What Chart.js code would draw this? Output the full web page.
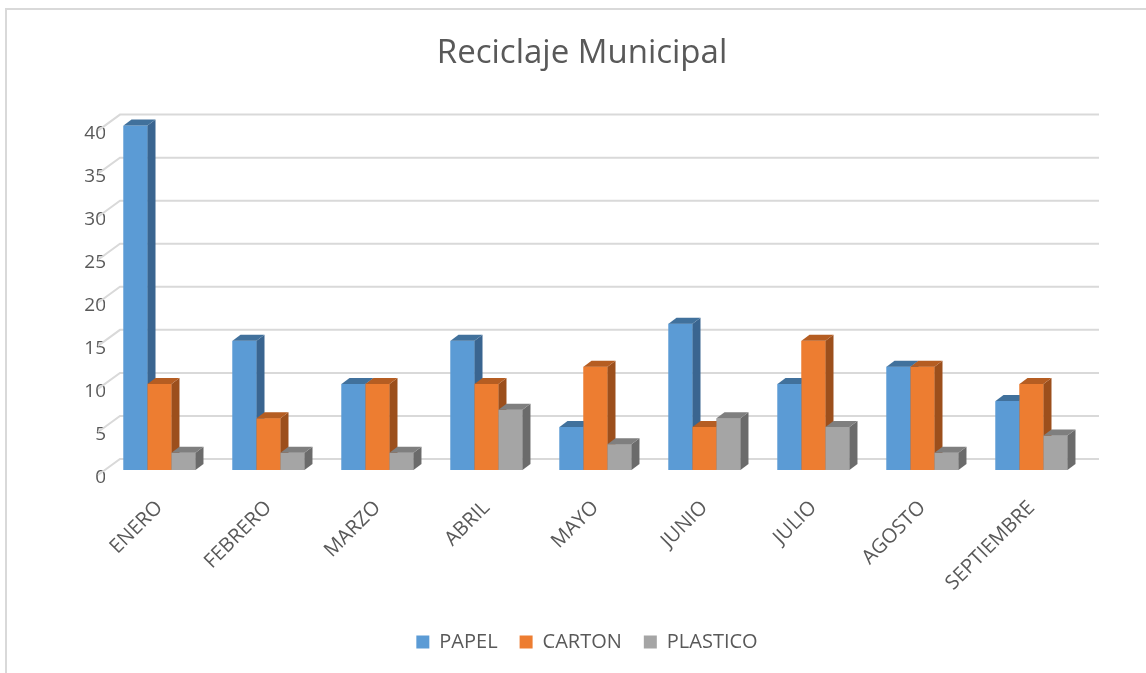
<!DOCTYPE html>
<html>
<head>
<meta charset="utf-8">
<script src="https://cdn.jsdelivr.net/npm/chart.js@4.4.0/dist/chart.umd.min.js"></script>
<style>
  body { margin: 0; background: #fff; overflow: hidden; }
  #wrap { position: absolute; left: 5px; top: 8px; width: 1170px; height: 700px; border: 2px solid #d9d9d9; }
  canvas { display: block; }
</style>
</head>
<body>
<div id="wrap"><canvas id="reciclajeChart" width="1150" height="663"></canvas></div>
<script>
const meses = ['ENERO', 'FEBRERO', 'MARZO', 'ABRIL', 'MAYO', 'JUNIO', 'JULIO', 'AGOSTO', 'SEPTIEMBRE'];
const papel = [40, 15, 10, 15, 5, 17, 10, 12, 8];
const carton = [10, 6, 10, 10, 12, 5, 15, 12, 10];
const plastico = [2, 2, 2, 7, 3, 6, 5, 2, 4];

// front / side / top colours per series
const shades = [
    { front: '#5b9bd5', side: '#3a6590', top: '#41719c' },
    { front: '#ed7d31', side: '#9c4f1c', top: '#b55d22' },
    { front: '#a5a5a5', side: '#6b6b6b', top: '#7f7f7f' }
];
const DX = 8, DY = 6;

// back wall gridlines + the slanted floor/wall lines on the left
const backGrid = {
    id: 'backGrid',
    beforeDatasetsDraw(chart) {
        const { ctx, chartArea, scales: { y } } = chart;
        ctx.save();
        ctx.strokeStyle = '#d9d9d9';
        ctx.lineWidth = 2;
        y.ticks.forEach(t => {
            const py = y.getPixelForValue(t.value);
            ctx.beginPath();
            ctx.moveTo(chartArea.left - 7, py + 5);
            ctx.lineTo(chartArea.left + 15, py - 11);
            ctx.lineTo(chartArea.right + 13, py - 11);
            ctx.stroke();
        });
        ctx.restore();
    }
};

// redraw every bar as a box, group by group, so the overlaps come out right
const boxes = {
    id: 'boxes',
    afterDatasetsDraw(chart) {
        const ctx = chart.ctx;
        const metas = chart.data.datasets.map((d, i) => chart.getDatasetMeta(i));
        ctx.save();
        meses.forEach((m, i) => {
            metas.forEach((meta, d) => {
                const bar = meta.data[i];
                const c = shades[d];
                const l = bar.x - bar.width / 2, r = bar.x + bar.width / 2;
                const top = bar.y, base = bar.base;
                ctx.fillStyle = c.front;
                ctx.fillRect(l, top, bar.width, base - top);
                ctx.fillStyle = c.side;
                ctx.beginPath();
                ctx.moveTo(r, top);
                ctx.lineTo(r + DX, top - DY);
                ctx.lineTo(r + DX, base - DY);
                ctx.lineTo(r, base);
                ctx.closePath();
                ctx.fill();
                ctx.fillStyle = c.top;
                ctx.beginPath();
                ctx.moveTo(l, top);
                ctx.lineTo(l + DX, top - DY);
                ctx.lineTo(r + DX, top - DY);
                ctx.lineTo(r, top);
                ctx.closePath();
                ctx.fill();
            });
        });
        ctx.restore();
    }
};

// nudge the legend a few pixels right, like the original
const legendNudge = {
    id: 'legendNudge',
    afterLayout(chart) {
        chart.legend.left += 5;
        chart.legend.right += 5;
    }
};

const ctx = document.getElementById('reciclajeChart').getContext('2d');
new Chart(ctx, {
    type: 'bar',
    data: {
        labels: meses,
        datasets: [
            { label: 'PAPEL', data: papel, backgroundColor: shades[0].front },
            { label: 'CARTON', data: carton, backgroundColor: shades[1].front },
            { label: 'PLASTICO', data: plastico, backgroundColor: shades[2].front }
        ]
    },
    options: {
        responsive: false,
        animation: false,
        layout: { padding: { top: 0, right: 0, bottom: 11, left: 0 } },
        datasets: { bar: { categoryPercentage: 0.66, barPercentage: 1 } },
        scales: {
            x: {
                grid: { display: false, drawTicks: false },
                border: { display: false },
                afterFit: s => { s.height = 140; },
                ticks: {
                    color: '#595959',
                    font: { family: 'Open Sans', size: 20 },
                    minRotation: 45,
                    maxRotation: 45,
                    padding: 26
                }
            },
            y: {
                min: 0,
                max: 40,
                grid: { display: false, drawTicks: false },
                border: { display: false },
                afterFit: s => { s.width = 98; },
                ticks: {
                    stepSize: 5,
                    color: '#595959',
                    font: { family: 'Open Sans', size: 19 },
                    padding: -1,
                    labelOffset: 8
                }
            },
            // empty right-hand axis: only reserves room so title and legend centre like the original
            yRight: {
                position: 'right',
                grid: { display: false, drawTicks: false },
                border: { display: false },
                ticks: { display: false },
                afterFit: s => { s.width = 71; }
            }
        },
        plugins: {
            title: {
                display: true,
                text: 'Reciclaje Municipal',
                color: '#595959',
                font: { family: 'Open Sans', size: 33, weight: 'normal' },
                padding: { top: 24, bottom: 52 }
            },
            legend: {
                position: 'bottom',
                labels: {
                    color: '#595959',
                    font: { family: 'Open Sans', size: 20 },
                    boxWidth: 13,
                    boxHeight: 13,
                    padding: 22
                }
            },
            tooltip: { enabled: false }
        }
    },
    plugins: [backGrid, boxes, legendNudge]
});
</script>
</body>
</html>
